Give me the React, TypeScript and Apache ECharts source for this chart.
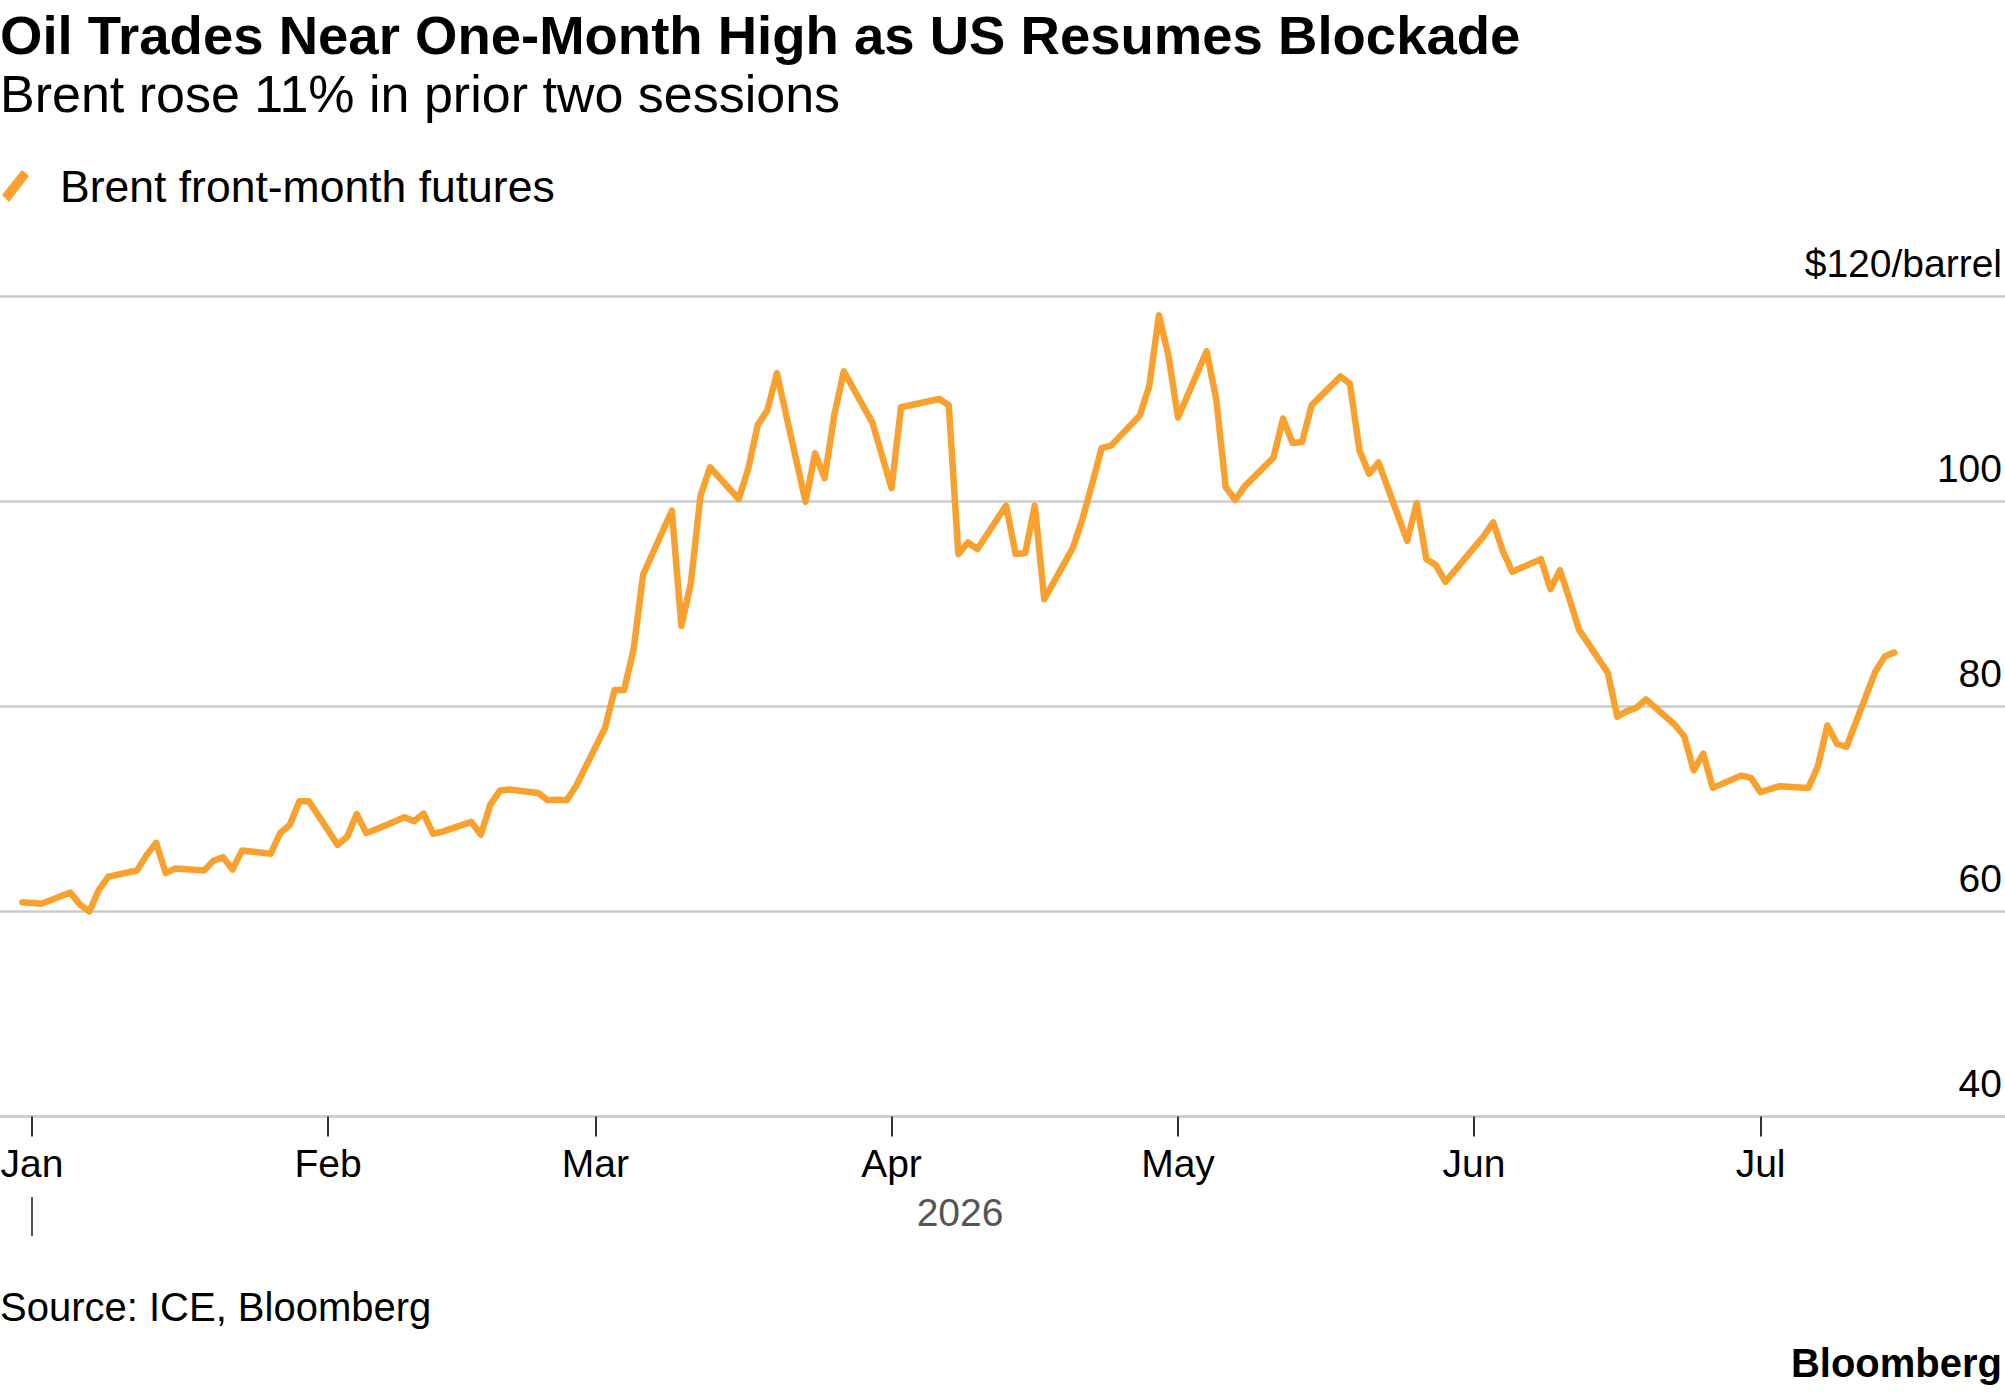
import React, { useEffect, useRef } from "react";
import * as echarts from "echarts";

const TITLE = "Oil Trades Near One-Month High as US Resumes Blockade";
const SUBTITLE = "Brent rose 11% in prior two sessions";
const SERIES_NAME = "Brent front-month futures";
const SOURCE = "Source: ICE, Bloomberg";
const YEAR_LABEL = "2026";
const BRAND = "Bloomberg";

const monthLabels = ["Jan", "Feb", "Mar", "Apr", "May", "Jun", "Jul"];
const monthStarts = ["2026-01-01", "2026-02-01", "2026-03-01", "2026-04-01", "2026-05-01", "2026-06-01", "2026-07-01"];
const yTickValues = [40, 60, 80, 100, 120];

// [day of month, Brent price $/bbl]
const dec2025: [number, number][] = [[31, 60.9]];
const jan2026: [number, number][] = [
  [2, 60.75], [5, 61.86], [6, 60.7], [7, 60.0], [8, 62.1], [9, 63.4],
  [12, 64.0], [13, 65.5], [14, 66.7], [15, 63.75], [16, 64.2],
  [19, 64.0], [20, 64.95], [21, 65.3], [22, 64.1], [23, 65.96],
  [26, 65.64], [27, 67.66], [28, 68.47], [29, 70.75], [30, 70.75],
];
const feb2026: [number, number][] = [
  [2, 66.5], [3, 67.3], [4, 69.5], [5, 67.66], [6, 68.0],
  [9, 69.2], [10, 68.8], [11, 69.55], [12, 67.57], [13, 67.8],
  [16, 68.74], [17, 67.5], [18, 70.43], [19, 71.8], [20, 71.9],
  [23, 71.57], [24, 70.85], [25, 70.9], [26, 70.85], [27, 72.3],
];
const mar2026: [number, number][] = [
  [2, 77.9], [3, 81.6], [4, 81.6], [5, 85.6], [6, 92.9],
  [9, 99.1], [10, 87.86], [11, 92.1], [12, 100.57], [13, 103.34],
  [16, 100.24], [17, 103.2], [18, 107.5], [19, 108.9], [20, 112.5],
  [23, 99.98], [24, 104.7], [25, 102.27], [26, 108.4], [27, 112.7],
  [30, 107.7], [31, 104.5],
];
const apr2026: [number, number][] = [
  [1, 101.3], [2, 109.2],
  [6, 110.0], [7, 109.4], [8, 94.87], [9, 96.0], [10, 95.36],
  [13, 99.6], [14, 94.87], [15, 94.97], [16, 99.6], [17, 90.47],
  [20, 95.5], [21, 98.3], [22, 101.7], [23, 105.2], [24, 105.45],
  [27, 108.4], [28, 111.3], [29, 118.16], [30, 114.25],
];
const may2026: [number, number][] = [
  [1, 108.2],
  [4, 114.65], [5, 110.0], [6, 101.4], [7, 100.15], [8, 101.5],
  [11, 104.3], [12, 108.1], [13, 105.7], [14, 105.8], [15, 109.4],
  [18, 112.2], [19, 111.5], [20, 105.0], [21, 102.7], [22, 103.8],
  [25, 96.17], [26, 99.85], [27, 94.38], [28, 93.8], [29, 92.16],
];
const jun2026: [number, number][] = [
  [1, 95.5], [2, 96.6], [3, 97.97], [4, 95.2], [5, 93.14],
  [8, 94.38], [9, 91.45], [10, 93.3], [11, 90.47], [12, 87.47],
  [15, 83.3], [16, 79.0], [17, 79.55], [18, 79.88], [19, 80.7],
  [22, 78.25], [23, 77.1], [24, 73.78], [25, 75.4], [26, 72.06],
  [29, 73.26], [30, 73.04],
];
const jul2026: [number, number][] = [
  [1, 71.63], [2, 71.95], [3, 72.22],
  [6, 72.06], [7, 74.17], [8, 78.15], [9, 76.36], [10, 76.07],
  [13, 83.36], [14, 84.87], [15, 85.26],
];

const FONT = '"Liberation Sans", Arial, Helvetica, sans-serif';
const ORANGE = "#F9A12E";
const W = 2005;
const H = 1392;
const DAY = 86400000;
const BASE = Date.UTC(2026, 0, 1);

const dayIndex = (y: number, m: number, d: number) => (Date.UTC(y, m - 1, d) - BASE) / DAY;
const isoIndex = (s: string) => {
  const [y, m, d] = s.split("-").map(Number);
  return dayIndex(y, m, d);
};

const monthBlocks: [number, number, [number, number][]][] = [
  [2025, 12, dec2025], [2026, 1, jan2026], [2026, 2, feb2026], [2026, 3, mar2026],
  [2026, 4, apr2026], [2026, 5, may2026], [2026, 6, jun2026], [2026, 7, jul2026],
];

const seriesData: [number, number][] = [];
monthBlocks.forEach(([y, m, rows]) => rows.forEach(([d, v]) => seriesData.push([dayIndex(y, m, d), v])));

const monthTickValues = monthStarts.map(isoIndex);

// layout: pixels per day and left offset of Jan 1
const PX_PER_DAY = 9.55;
const JAN1_X = 32;
const X_MIN = -JAN1_X / PX_PER_DAY;
const X_MAX = X_MIN + W / PX_PER_DAY;

const mid = (baseline: number, size: number) => baseline - 0.3465 * size;

export default function App() {
  const ref = useRef<HTMLDivElement>(null);
  useEffect(() => {
    document.body.style.margin = "0";
    if (!ref.current) return;
    const chart = echarts.init(ref.current, undefined, { renderer: "svg" });
    chart.setOption({
      animation: false,
      backgroundColor: "#ffffff",
      textStyle: { fontFamily: FONT },
      grid: { left: 0, right: 0, top: 296.5, bottom: H - 1116.5, containLabel: false, outerBoundsMode: "none" },
      legend: {
        show: true,
        left: 2,
        top: 161,
        padding: 0,
        selectedMode: false,
        itemWidth: 27,
        itemHeight: 32,
        icon: "path://M0,25 L20,0 L27,6 L7,32 Z",
        data: [{ name: SERIES_NAME, itemStyle: { color: ORANGE } }],
        textStyle: { fontSize: 44.5, color: "#000", fontFamily: FONT, lineHeight: 44, padding: [0, 0, 6, 26] },
      },
      xAxis: {
        type: "value",
        min: X_MIN,
        max: X_MAX,
        splitLine: { show: false },
        axisLine: { show: true, onZero: false, lineStyle: { color: "#cccccc", width: 2.5 } },
        axisTick: { show: true, length: 20, lineStyle: { color: "#333", width: 2 }, customValues: monthTickValues },
        axisLabel: {
          customValues: monthTickValues,
          formatter: (v: number) => {
            const i = monthTickValues.findIndex((t) => Math.abs(t - v) < 0.01);
            return i >= 0 ? monthLabels[i] : "";
          },
          margin: 27,
          fontSize: 39,
          lineHeight: 39,
          color: "#000",
          fontFamily: FONT,
        },
      },
      yAxis: {
        type: "value",
        position: "right",
        min: yTickValues[0],
        max: yTickValues[yTickValues.length - 1],
        interval: 20,
        axisLine: { show: false },
        axisTick: { show: false },
        splitLine: { show: true, lineStyle: { color: "#cccccc", width: 2.5 } },
        axisLabel: {
          inside: true,
          margin: 3,
          fontSize: 39,
          lineHeight: 39,
          color: "#000",
          fontFamily: FONT,
          verticalAlign: "bottom",
          padding: [0, 0, 14, 0],
          formatter: (v: number) => (v === 120 ? "$120/barrel" : String(v)),
        },
      },
      series: [
        {
          name: SERIES_NAME,
          type: "line",
          data: seriesData,
          showSymbol: false,
          symbol: "none",
          lineStyle: { color: ORANGE, width: 6.5, join: "round", cap: "round" },
          itemStyle: { color: ORANGE },
          z: 5,
        },
      ],
      graphic: [
        { type: "text", x: 0, y: mid(54, 54.5), style: { text: TITLE, fontSize: 54.5, fontWeight: "bold", fontFamily: FONT, fill: "#000", align: "left", verticalAlign: "middle" } },
        { type: "text", x: 0, y: mid(112, 52), style: { text: SUBTITLE, fontSize: 52, fontFamily: FONT, fill: "#000", align: "left", verticalAlign: "middle" } },
        { type: "line", shape: { x1: JAN1_X, y1: 1197, x2: JAN1_X, y2: 1236 }, style: { stroke: "#555", lineWidth: 2 } },
        { type: "text", x: 960, y: mid(1226.5, 39), style: { text: YEAR_LABEL, fontSize: 39, fontFamily: FONT, fill: "#555", align: "center", verticalAlign: "middle" } },
        { type: "text", x: 0, y: mid(1321, 40), style: { text: SOURCE, fontSize: 40, fontFamily: FONT, fill: "#000", align: "left", verticalAlign: "middle" } },
        { type: "text", x: 2002, y: mid(1377, 40), style: { text: BRAND, fontSize: 40, fontWeight: "bold", fontFamily: FONT, fill: "#000", align: "right", verticalAlign: "middle" } },
      ],
    });
    return () => chart.dispose();
  }, []);
  return <div ref={ref} style={{ width: W, height: H }} />;
}
